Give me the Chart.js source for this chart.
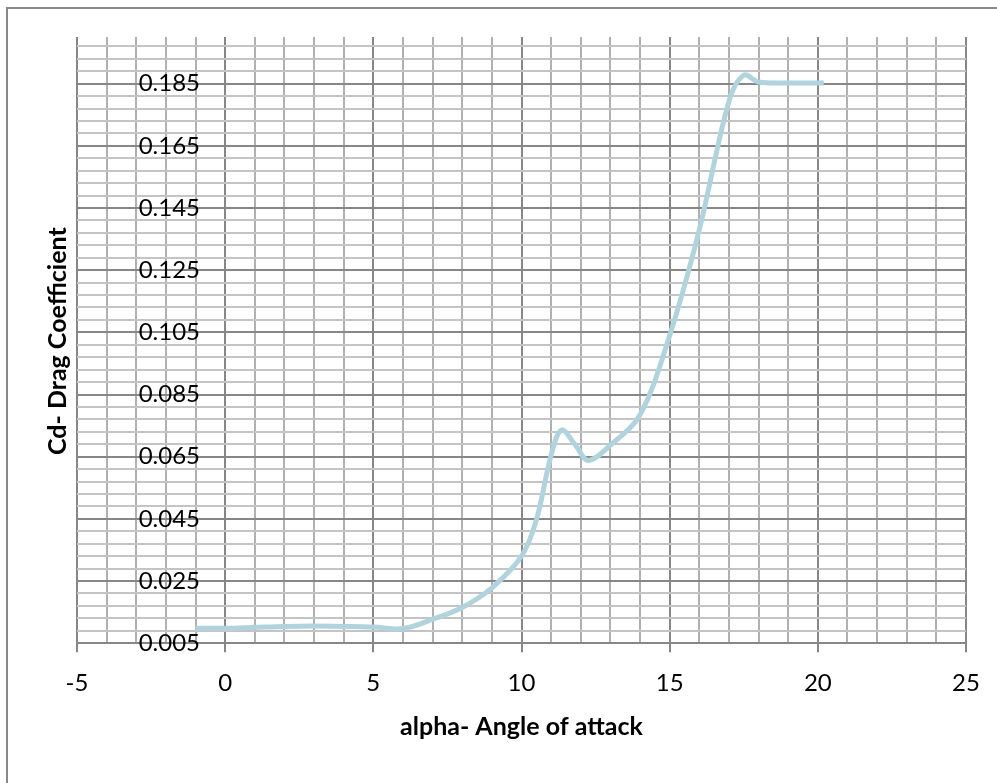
<!DOCTYPE html>
<html>
<head>
<meta charset="utf-8">
<script src="https://cdn.jsdelivr.net/npm/chart.js@4/dist/chart.umd.min.js"></script>
<style>
  html, body { margin: 0; padding: 0; background: #ffffff; }
  canvas { display: block; }
</style>
</head>
<body>
<canvas id="chart" width="997" height="783"></canvas>
<script>
// Angle of attack (deg) and drag coefficient
const alpha = [-1, 0, 1, 2, 3, 4, 5, 6, 7, 8, 9, 10, 10.5, 11, 11.35, 11.8, 12.25, 13, 14, 15, 16, 17, 17.5, 18, 19, 20.2];
const cd = [0.0098, 0.0098, 0.0101, 0.0104, 0.0105, 0.0104, 0.0102, 0.0097, 0.0127, 0.0165, 0.0228, 0.0330, 0.0446, 0.0655, 0.0736, 0.0690, 0.0638, 0.0687, 0.0785, 0.1040, 0.1380, 0.1793, 0.1877, 0.1855, 0.1852, 0.1852];

// Axis labels
const xTickLabels = ['-5', '0', '5', '10', '15', '20', '25'];
const yTickLabels = ['0.005', '0.025', '0.045', '0.065', '0.085', '0.105', '0.125', '0.145', '0.165', '0.185'];
const xTitle = 'alpha- Angle of attack';
const yTitle = 'Cd- Drag Coefficient';

const X_MIN = -5, X_MAX = 25, X_MINOR = 1;
const Y_MIN = 0.005, Y_MAX = 0.2, Y_MINOR = 0.004;

const MAJOR = '#878787';
const MINOR_V = '#b0b0b0';
const MINOR_H = '#c4c4c4';
const LINE = '#b0d3de';
const FONT = 'Lato, "Open Sans", sans-serif';

const xMajor = xTickLabels.map(Number);
const yMajor = yTickLabels.map(Number);

const near = (a, b) => Math.abs(a - b) < 1e-7;
const isMajorX = v => xMajor.some(m => near(m, v));
const isMajorY = v => yMajor.some(m => near(m, v));

// every unit on x, every 0.004 on y, with the labelled values among them
const xTicks = [];
for (let v = X_MIN; v <= X_MAX + 1e-9; v += X_MINOR) xTicks.push({ value: Math.round(v * 1000) / 1000 });
const yTicks = [];
for (let v = Y_MIN; v < Y_MAX - 1e-9; v += Y_MINOR) yTicks.push({ value: Math.round(v * 100000) / 100000 });

// frame around the whole chart and the vertical axis title
const decorations = {
  id: 'decorations',
  beforeDraw(chart) {
    const ctx = chart.ctx;
    ctx.save();
    ctx.strokeStyle = '#8a8a8a';
    ctx.lineWidth = 2;
    ctx.strokeRect(7, 8, 1200, 1000);
    ctx.restore();
  },
  afterDraw(chart) {
    const ctx = chart.ctx;
    const area = chart.chartArea;
    ctx.save();
    ctx.translate(58, (area.top + area.bottom) / 2 + 1);
    ctx.rotate(-Math.PI / 2);
    ctx.font = 'bold 25px ' + FONT;
    ctx.fillStyle = '#000000';
    ctx.textAlign = 'center';
    ctx.textBaseline = 'middle';
    ctx.fillText(yTitle, 0, 0);
    ctx.restore();
  }
};

new Chart(document.getElementById('chart'), {
  type: 'scatter',
  data: {
    datasets: [{
      data: alpha.map((a, i) => ({ x: a, y: cd[i] })),
      showLine: true,
      borderColor: LINE,
      borderWidth: 5,
      pointRadius: 0,
      pointHoverRadius: 0,
      tension: 0.35,
      fill: false
    }]
  },
  options: {
    responsive: false,
    animation: false,
    devicePixelRatio: 1,
    layout: { padding: { left: 77, right: 31, top: 37, bottom: 41 } },
    plugins: { legend: { display: false }, tooltip: { enabled: false } },
    scales: {
      x: {
        type: 'linear',
        position: 'bottom',
        min: X_MIN,
        max: X_MAX,
        afterBuildTicks: s => { s.ticks = xTicks.map(t => ({ value: t.value })); },
        ticks: {
          autoSkip: false,
          maxRotation: 0,
          padding: 17,
          color: '#000000',
          font: { family: FONT, size: 24 },
          callback: v => {
            const i = xMajor.findIndex(m => near(m, v));
            return i >= 0 ? xTickLabels[i] : '';
          }
        },
        grid: {
          color: c => (c.tick && isMajorX(c.tick.value)) ? MAJOR : MINOR_V,
          lineWidth: 2,
          drawTicks: true,
          tickLength: 9,
          tickColor: c => (c.tick && isMajorX(c.tick.value)) ? MAJOR : 'rgba(0,0,0,0)',
          tickWidth: 2
        },
        border: { display: true, color: MAJOR, width: 2 },
        title: {
          display: true,
          text: xTitle,
          color: '#000000',
          font: { family: FONT, size: 25, weight: 'bold' },
          padding: { top: -3, bottom: 0 }
        }
      },
      y: {
        type: 'linear',
        // labels sit just left of the zero line, inside the plot
        position: { x: -0.85 },
        min: Y_MIN,
        max: Y_MAX,
        afterBuildTicks: s => { s.ticks = yTicks.map(t => ({ value: t.value })); },
        ticks: {
          autoSkip: false,
          padding: 0,
          color: '#000000',
          font: { family: FONT, size: 24 },
          callback: v => {
            const i = yMajor.findIndex(m => near(m, v));
            return i >= 0 ? yTickLabels[i] : '';
          }
        },
        grid: {
          color: c => (c.tick && isMajorY(c.tick.value)) ? MAJOR : MINOR_H,
          lineWidth: 2,
          drawTicks: false
        },
        border: { display: false }
      }
    }
  },
  plugins: [decorations]
});
</script>
</body>
</html>
